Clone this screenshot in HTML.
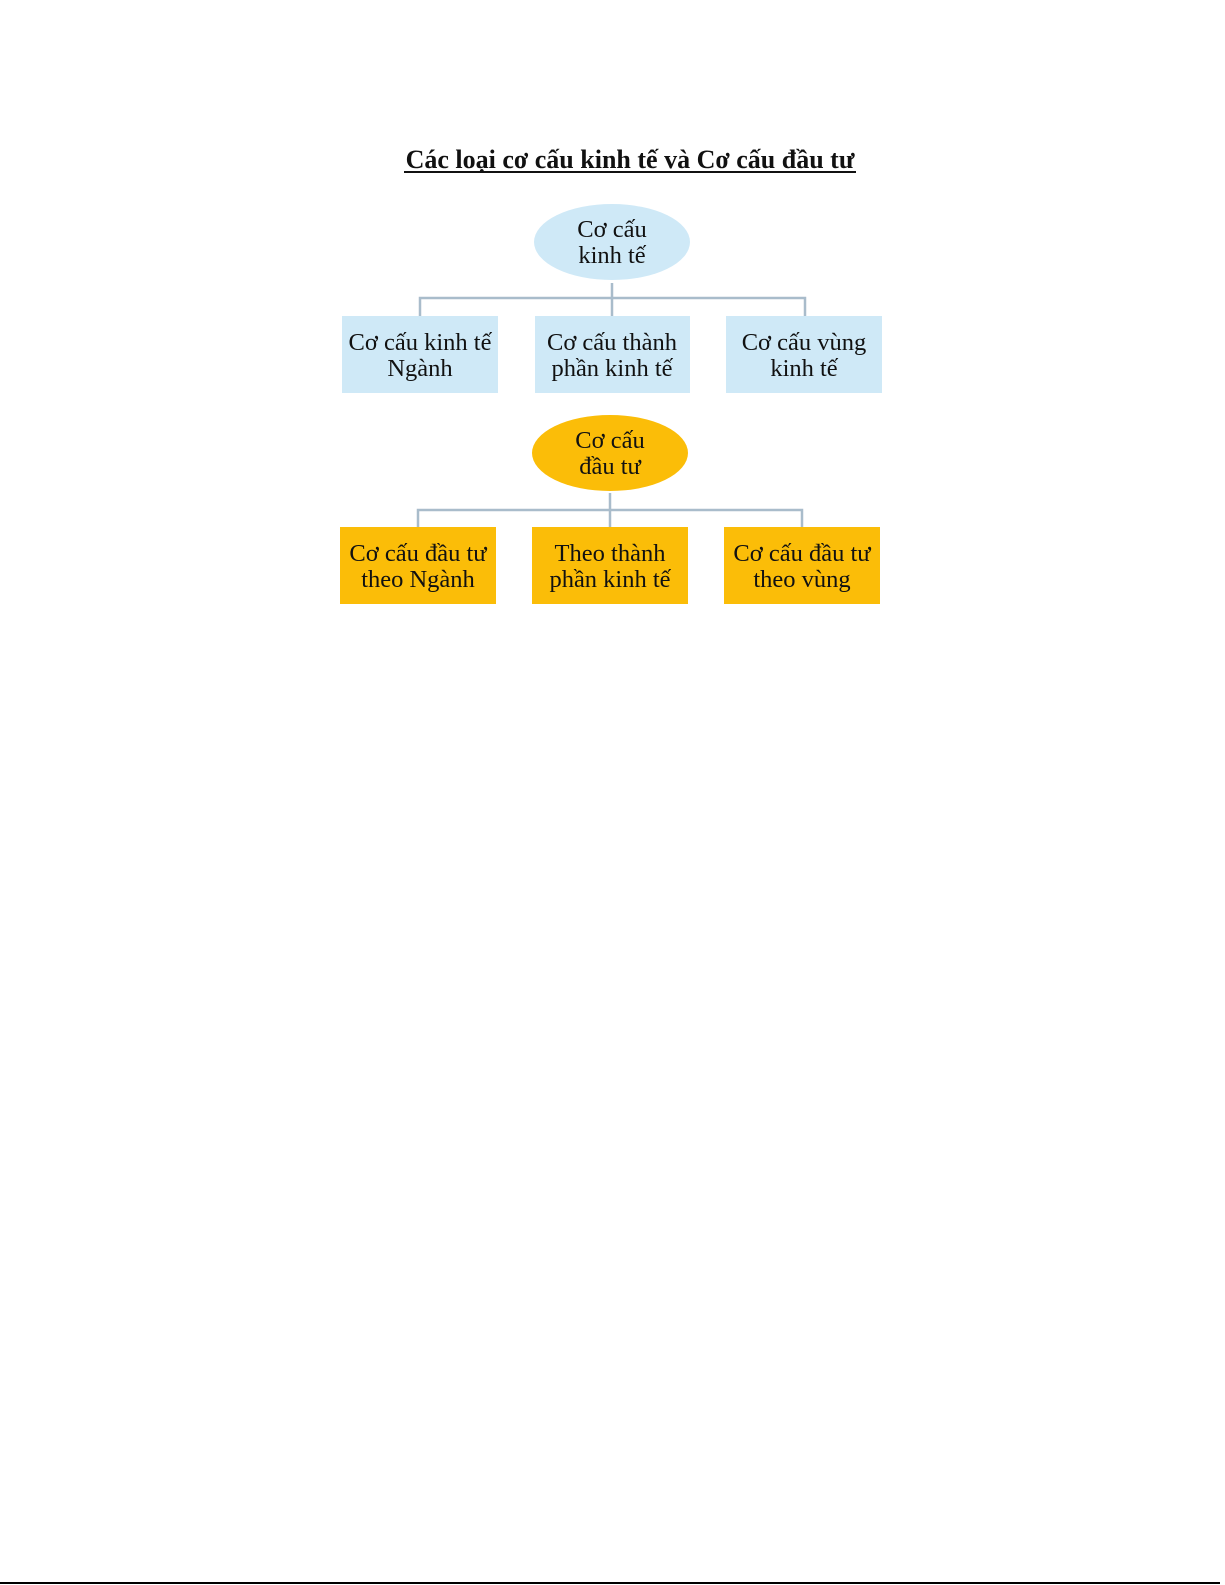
<!DOCTYPE html>
<html><head><meta charset="utf-8"><style>
body{margin:0;background:#fff;}
svg{display:block}
text{font-family:"Liberation Serif",serif;font-size:24.5px;fill:#111;text-anchor:middle}
</style></head><body>
<svg width="1225" height="1585" viewBox="0 0 1225 1585">
<text x="630" y="168" style="font-size:26px;font-weight:bold">Các loại cơ cấu kinh tế và Cơ cấu đầu tư</text>
<line x1="404" y1="172" x2="856" y2="172" stroke="#111" stroke-width="2"/>
<ellipse cx="612" cy="242" rx="78" ry="38" fill="#cfe9f7"/>
<text x="612" y="237">Cơ cấu</text><text x="612" y="263">kinh tế</text>
<g stroke="#a9bccb" stroke-width="2.5" fill="none">
<path d="M612 283V316M420 316V298H805V316"/>
<path d="M610 493V527M418 527V510H802V527"/>
</g>
<g fill="#cfe9f7"><rect x="342" y="316" width="156" height="77"/><rect x="535" y="316" width="155" height="77"/><rect x="726" y="316" width="156" height="77"/></g>
<text x="420" y="350">Cơ cấu kinh tế</text><text x="420" y="376">Ngành</text>
<text x="612" y="350">Cơ cấu thành</text><text x="612" y="376">phần kinh tế</text>
<text x="804" y="350">Cơ cấu vùng</text><text x="804" y="376">kinh tế</text>
<ellipse cx="610" cy="453" rx="78" ry="38" fill="#fbbd08"/>
<text x="610" y="448">Cơ cấu</text><text x="610" y="474">đầu tư</text>
<g fill="#fbbd08"><rect x="340" y="527" width="156" height="77"/><rect x="532" y="527" width="156" height="77"/><rect x="724" y="527" width="156" height="77"/></g>
<text x="418" y="561">Cơ cấu đầu tư</text><text x="418" y="587">theo Ngành</text>
<text x="610" y="561">Theo thành</text><text x="610" y="587">phần kinh tế</text>
<text x="802" y="561">Cơ cấu đầu tư</text><text x="802" y="587">theo vùng</text>
<line x1="0" y1="1583" x2="1220" y2="1583" stroke="#000" stroke-width="2"/>
</svg>
</body></html>
